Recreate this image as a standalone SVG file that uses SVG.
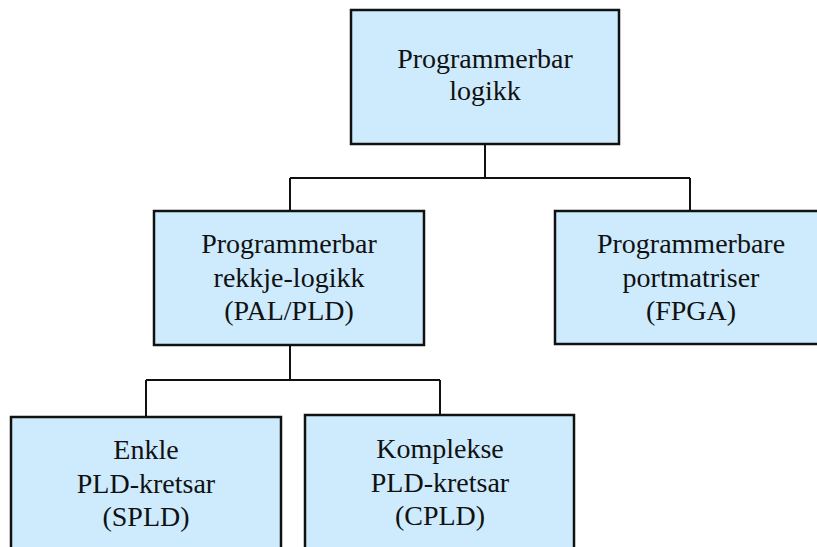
<svg xmlns="http://www.w3.org/2000/svg" width="817" height="547" viewBox="0 0 817 547">
  <style>
    .box { fill: #cdebfd; stroke: #111; stroke-width: 2.5; }
    .wire { fill: none; stroke: #111; stroke-width: 2; }
    text { font-family: "Liberation Serif", "Times New Roman", serif !important; font-size: 28px; fill: #111; text-anchor: middle; }
  </style>
  <rect width="817" height="547" fill="#fff"/>

  <!-- tree connectors -->
  <g id="connectors">
    <path class="wire" d="M485 144 V178 M290 178 H690 M290 178 V211 M690 178 V211"/>
    <path class="wire" d="M290 345 V380 M146 380 H440 M146 380 V417 M440 380 V415"/>
  </g>

  <g id="programmerbar-logikk">
    <rect class="box" x="351" y="10" width="268" height="134"/>
    <text x="485" y="68" style="font-family: 'Liberation Serif', serif">Programmerbar</text>
    <text x="485" y="100" style="font-family: 'Liberation Serif', serif">logikk</text>
  </g>

  <g id="pal-pld">
    <rect class="box" x="154" y="211" width="270" height="134"/>
    <text x="289" y="253" style="font-family: 'Liberation Serif', serif">Programmerbar</text>
    <text x="289" y="287" style="font-family: 'Liberation Serif', serif">rekkje-logikk</text>
    <text x="289" y="320" style="font-family: 'Liberation Serif', serif">(PAL/PLD)</text>
  </g>

  <g id="fpga">
    <rect class="box" x="555" y="211" width="272" height="133"/>
    <text x="691" y="253" style="font-family: 'Liberation Serif', serif">Programmerbare</text>
    <text x="691" y="287" style="font-family: 'Liberation Serif', serif">portmatriser</text>
    <text x="691" y="320" style="font-family: 'Liberation Serif', serif">(FPGA)</text>
  </g>

  <g id="spld">
    <rect class="box" x="11" y="417" width="270" height="140"/>
    <text x="146" y="459" style="font-family: 'Liberation Serif', serif">Enkle</text>
    <text x="146" y="493" style="font-family: 'Liberation Serif', serif">PLD-kretsar</text>
    <text x="146" y="526" style="font-family: 'Liberation Serif', serif">(SPLD)</text>
  </g>

  <g id="cpld">
    <rect class="box" x="305" y="415" width="269" height="142"/>
    <text x="440" y="458" style="font-family: 'Liberation Serif', serif">Komplekse</text>
    <text x="440" y="492" style="font-family: 'Liberation Serif', serif">PLD-kretsar</text>
    <text x="440" y="525" style="font-family: 'Liberation Serif', serif">(CPLD)</text>
  </g>
</svg>
